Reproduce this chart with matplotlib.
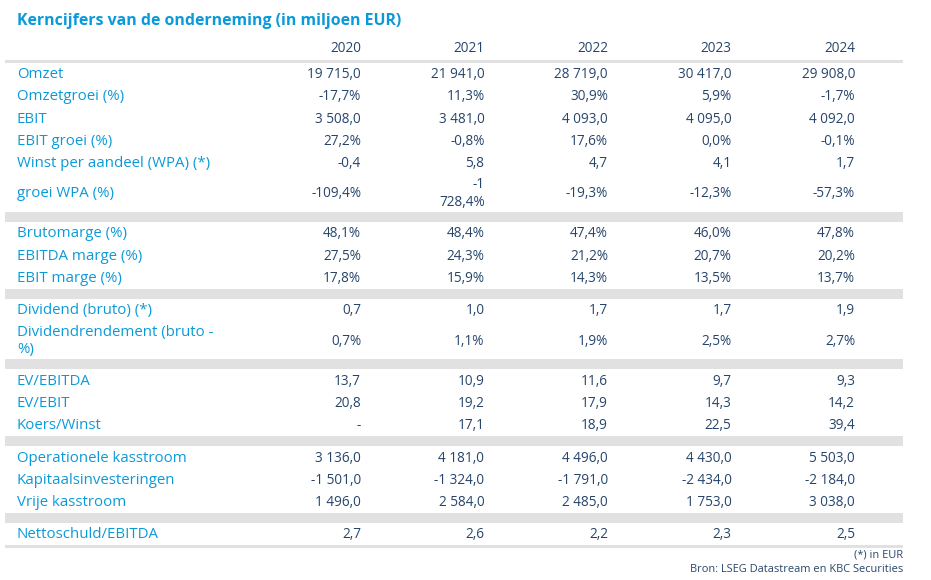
import matplotlib.pyplot as plt

BLUE = "#0b9ad9"
NAVY = "#27456b"
BAND = "#e1e1e1"

title = "Kerncijfers van de onderneming (in miljoen EUR)"
years = ["2020", "2021", "2022", "2023", "2024"]

omzet = [19715.0, 21941.0, 28719.0, 30417.0, 29908.0]
omzetgroei = [-17.7, 11.3, 30.9, 5.9, -1.7]
ebit = [3508.0, 3481.0, 4093.0, 4095.0, 4092.0]
ebit_groei = [27.2, -0.8, 17.6, 0.0, -0.1]
wpa = [-0.4, 5.8, 4.7, 4.1, 1.7]
groei_wpa = [-109.4, -1728.4, -19.3, -12.3, -57.3]
brutomarge = [48.1, 48.4, 47.4, 46.0, 47.8]
ebitda_marge = [27.5, 24.3, 21.2, 20.7, 20.2]
ebit_marge = [17.8, 15.9, 14.3, 13.5, 13.7]
dividend = [0.7, 1.0, 1.7, 1.7, 1.9]
dividendrendement = [0.7, 1.1, 1.9, 2.5, 2.7]
ev_ebitda = [13.7, 10.9, 11.6, 9.7, 9.3]
ev_ebit = [20.8, 19.2, 17.9, 14.3, 14.2]
koers_winst = [None, 17.1, 18.9, 22.5, 39.4]
op_kasstroom = [3136.0, 4181.0, 4496.0, 4430.0, 5503.0]
kapitaalsinv = [-1501.0, -1324.0, -1791.0, -2434.0, -2184.0]
vrije_kasstroom = [1496.0, 2584.0, 2485.0, 1753.0, 3038.0]
nettoschuld_ebitda = [2.7, 2.6, 2.2, 2.3, 2.5]

footnotes = ["(*) in EUR", "Bron: LSEG Datastream en KBC Securities"]

# sections of (label, values, is_percent)
sections = [
    [("Omzet", omzet, False),
     ("Omzetgroei (%)", omzetgroei, True),
     ("EBIT", ebit, False),
     ("EBIT groei (%)", ebit_groei, True),
     ("Winst per aandeel (WPA) (*)", wpa, False),
     ("groei WPA (%)", groei_wpa, True)],
    [("Brutomarge (%)", brutomarge, True),
     ("EBITDA marge (%)", ebitda_marge, True),
     ("EBIT marge (%)", ebit_marge, True)],
    [("Dividend (bruto) (*)", dividend, False),
     ("Dividendrendement (bruto -\n%)", dividendrendement, True)],
    [("EV/EBITDA", ev_ebitda, False),
     ("EV/EBIT", ev_ebit, False),
     ("Koers/Winst", koers_winst, False)],
    [("Operationele kasstroom", op_kasstroom, False),
     ("Kapitaalsinvesteringen", kapitaalsinv, False),
     ("Vrije kasstroom", vrije_kasstroom, False)],
    [("Nettoschuld/EBITDA", nettoschuld_ebitda, False)],
]


def fmt(v, pct):
    if v is None:
        return "-"
    s = f"{abs(v):,.1f}".replace(",", " ").replace(".", ",")
    if v < 0:
        s = "-" + s
    if pct:
        s += "%"
    # long values wrap onto two lines in the narrow column
    if len(s) > 8 and " " in s:
        s = s.replace(" ", "\n", 1)
    return s


W, H = 931, 580
fig = plt.figure(figsize=(W / 100, H / 100), dpi=100)
ax = fig.add_axes([0, 0, 1, 1])
ax.set_xlim(0, W)
ax.set_ylim(H, 0)
ax.axis("off")

plt.rcParams["font.family"] = ["Open Sans", "DejaVu Sans"]

x_label = 17
col_right = [361, 484.5, 608, 731.5, 855]
x_left, x_right = 5, 903
row_h = 22.3
band_h = 10
fs_lab = 10.8
fs_num = 9.8

ax.text(x_label, 21, title, color=BLUE, fontsize=11.4, fontweight="bold",
        ha="left", va="center")
for x, yr in zip(col_right, years):
    ax.text(x, 49, yr, color=NAVY, fontsize=fs_num, ha="right", va="center")
ax.fill_between([x_left, x_right], 60, 62.8, color=BAND, lw=0)

y = 62.5
for si, sec in enumerate(sections):
    for label, vals, pct in sec:
        cells = [fmt(v, pct) for v in vals]
        tall = "\n" in label or any("\n" in c for c in cells)
        h = 38 if tall else row_h
        yc = y + h / 2 + 0.8
        ax.text(x_label, yc, label, color=BLUE, fontsize=fs_lab, ha="left",
                va="center", linespacing=1.2)
        for x, c in zip(col_right, cells):
            ax.text(x, yc, c, color=NAVY, fontsize=fs_num, ha="right",
                    va="center", linespacing=1.3)
        y += h
    if si < len(sections) - 1:
        ax.fill_between([x_left, x_right], y, y + band_h, color=BAND, lw=0)
        y += band_h
ax.fill_between([x_left, x_right], y, y + 3, color=BAND, lw=0)

ax.text(x_right, 555, footnotes[0], color=NAVY, fontsize=7.9, ha="right", va="center")
ax.text(x_right, 569, footnotes[1], color=NAVY, fontsize=7.9, ha="right", va="center")

fig.savefig("out.png", dpi=100)
